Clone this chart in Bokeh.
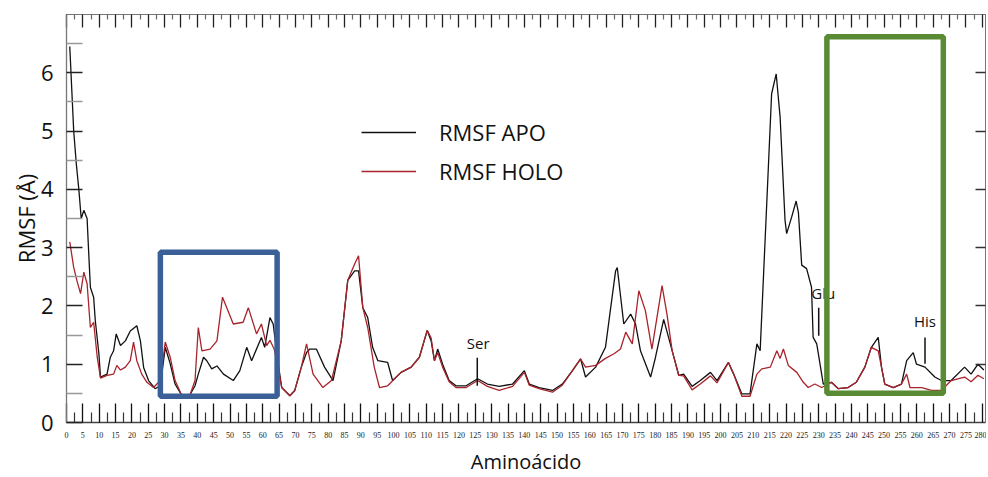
from bokeh.plotting import figure
from bokeh.models import (LinearAxis, FixedTicker, Range1d, Legend, LegendItem,
                          BoxAnnotation, CustomJSTickFormatter)
from bokeh.core.properties import value
from bokeh.embed import file_html
from bokeh.resources import INLINE

# ---------------- data ----------------
apo_res = [1, 2.2, 3.0, 3.8, 4.5, 5.3, 6.3, 6.8, 7.3, 8.3, 8.8, 9.9, 10.4, 12.4, 13.4, 14.4,
           15.2, 16.5, 18, 19.5, 21.5, 22.6, 23.6, 25.1, 27.1, 28.7, 30.2, 31.7, 33.2, 35.3,
           37.8, 39.3, 40.3, 41.9, 42.9, 44.4, 46, 48, 51, 53, 55.1, 56.6, 59.6, 60.6, 62.2,
           63.2, 64.5, 65.8, 68.3, 69.8, 71.8, 73.4, 74.4, 76.4, 78.9, 81.5, 84, 86, 88.1,
           89.3, 90.6, 92.1, 93.6, 95.2, 98.2, 99.7, 102.3, 105.4, 107.9, 110.3, 111.5, 112.5,
           113.5, 115, 117, 119.1, 122.2, 125.7, 128.7, 132.3, 136.4, 140, 141.5, 144.5, 148.6,
           151.6, 154.7, 157.2, 158.7, 161.8, 164.8, 166.4, 167.9, 168.4, 170.4, 172.5, 174,
           175.5, 178.6, 180.1, 182.6, 185.2, 187.2, 188.7, 191.3, 193.8, 196.9, 198.9, 202.4,
           204, 206.5, 209, 211.1, 212.1, 214.2, 215.6, 217, 218.2, 219.7, 220.2, 221.7, 223.1,
           223.8, 224.8, 226.3, 227.8, 228.3, 229.4, 231.4, 233.9, 236, 239, 241.5, 244.1,
           246.1, 248.2, 249.2, 250.2, 252.8, 255.3, 256.9, 258.9, 259.9, 262.5, 265.5, 267.5,
           270.5, 274.6, 276.6, 278.7, 280.5]
apo_rmsf = [6.45, 5.0, 4.44, 3.98, 3.5, 3.64, 3.5, 2.9, 2.32, 2.15, 1.75, 1.18, 0.78, 0.83, 1.12,
            1.23, 1.52, 1.32, 1.4, 1.57, 1.66, 1.4, 0.94, 0.72, 0.58, 0.63, 1.29, 1.01, 0.66,
            0.46, 0.48, 0.63, 0.83, 1.12, 1.06, 0.92, 0.97, 0.83, 0.72, 0.89, 1.29, 1.06, 1.46,
            1.29, 1.8, 1.69, 1.1, 0.6, 0.46, 0.55, 0.95, 1.2, 1.26, 1.26, 0.95, 0.72, 1.4, 2.44,
            2.6, 2.6, 1.97, 1.8, 1.29, 1.06, 1.03, 0.72, 0.86, 0.95, 1.12, 1.58, 1.4, 1.06, 1.26,
            1.0, 0.72, 0.63, 0.63, 0.75, 0.66, 0.62, 0.66, 0.89, 0.66, 0.6, 0.55, 0.66, 0.89,
            1.09, 0.78, 0.95, 1.29, 1.97, 2.6, 2.66, 1.69, 1.86, 1.69, 1.23, 0.78, 1.12, 1.77,
            1.23, 0.81, 0.83, 0.62, 0.72, 0.86, 0.72, 1.03, 0.83, 0.49, 0.49, 1.35, 1.23, 3.87,
            5.64, 5.98, 5.24, 3.47, 3.24, 3.52, 3.8, 3.6, 2.7, 2.64, 2.32, 1.46, 1.35, 0.66,
            0.69, 0.58, 0.6, 0.69, 0.95, 1.29, 1.46, 0.95, 0.66, 0.6, 0.66, 1.06, 1.2, 1.0,
            0.95, 0.78, 0.72, 0.72, 0.95, 0.83, 1.0, 0.9]

holo_res = [1, 2.2, 3.2, 4.3, 5.3, 6.3, 7.3, 8.3, 9.4, 10.4, 12.4, 14.4, 15.4, 16.5, 18, 19.5,
            20.5, 21.5, 23, 24.6, 26.6, 28.7, 30.2, 31.7, 33.2, 35.3, 37.8, 39.3, 40.3, 41.4,
            43.9, 46, 47.7, 49, 51, 54, 55.6, 58.1, 59.6, 61.2, 62.2, 63.5, 64.5, 65.8, 68.3,
            69.8, 71.8, 73.4, 75.4, 78.4, 81, 84, 86, 88.1, 89.3, 90.6, 92.1, 94.1, 95.7, 98.2,
            102.3, 105.4, 107.9, 110.3, 111.5, 112.5, 113.5, 115, 117, 119.1, 122.2, 125.7,
            128.7, 132.3, 136.4, 140, 141.5, 144.5, 148.6, 151.6, 154.7, 157.2, 158.7, 161.8,
            164.8, 167.4, 169.4, 171, 173, 175, 177, 179, 182.1, 183.6, 185.2, 187.2, 188.7,
            191.3, 193.8, 196.9, 198.9, 202.4, 204, 206.5, 209, 211.1, 212.6, 215.2, 217.2,
            218.2, 219.2, 220.7, 223.3, 225.3, 226.8, 228.8, 230.9, 233.9, 236, 239, 241.5,
            244.1, 246.1, 248.2, 249.2, 250.2, 252.8, 255.3, 256.9, 257.9, 261.5, 264.5, 267.5,
            270.5, 274.6, 276.6, 278.7, 280.5]
holo_rmsf = [3.1, 2.66, 2.43, 2.21, 2.58, 2.38, 1.63, 1.72, 1.12, 0.76, 0.81, 0.83, 0.98, 0.9,
             0.95, 1.06, 1.38, 1.06, 0.83, 0.69, 0.6, 0.72, 1.38, 1.12, 0.72, 0.46, 0.48, 0.72,
             1.63, 1.23, 1.26, 1.4, 2.15, 1.97, 1.69, 1.72, 1.97, 1.52, 1.69, 1.32, 1.41, 1.26,
             1.0, 0.6, 0.46, 0.55, 0.95, 1.35, 0.83, 0.6, 0.72, 1.4, 2.44, 2.72, 2.86, 1.97,
             1.63, 0.95, 0.6, 0.63, 0.86, 0.95, 1.12, 1.58, 1.45, 1.06, 1.2, 0.95, 0.7, 0.6, 0.6,
             0.72, 0.62, 0.55, 0.62, 0.86, 0.64, 0.58, 0.52, 0.64, 0.89, 1.09, 0.95, 0.98, 1.1,
             1.18, 1.26, 1.55, 1.35, 2.26, 1.92, 1.26, 2.35, 1.86, 1.23, 0.81, 0.8, 0.56, 0.66,
             0.8, 0.68, 1.03, 0.83, 0.45, 0.45, 0.83, 0.92, 0.95, 1.23, 1.1, 1.26, 0.98, 0.86,
             0.69, 0.6, 0.66, 0.6, 0.69, 0.58, 0.6, 0.69, 0.95, 1.29, 1.23, 0.95, 0.66, 0.6,
             0.66, 0.83, 0.6, 0.6, 0.55, 0.55, 0.72, 0.78, 0.7, 0.81, 0.75]

series_labels = ["RMSF APO", "RMSF HOLO"]

# highlighted regions (residue span, RMSF span)
blue_region_res = [28.7, 64.4]
blue_region_rmsf = [0.45, 2.92]
green_region_res = [232.5, 268.1]
green_region_rmsf = [0.50, 6.62]

# residue markers
marker_names = ["Ser", "Glu", "His"]
marker_text_res = [125.9, 231.4, 262.5]
marker_text_rmsf = [1.36, 2.23, 1.75]
marker_line_res = [125.6, 230.0, 262.5]
marker_line_top = [1.11, 1.97, 1.46]
marker_line_bottom = [0.63, 1.49, 1.01]

x_ticks = list(range(0, 285, 5))
x_minor = [t + 2.5 for t in x_ticks[:-1]]
y_ticks = [0, 1, 2, 3, 4, 5, 6]
y_minor = [0.5, 1.5, 2.5, 3.5, 4.5, 5.5, 6.5]

# ---------------- figure ----------------
FONT = "Open Sans"
APO_COLOR = "#111111"
HOLO_COLOR = "#a8232b"

p = figure(width=986, height=477, x_range=Range1d(0, 281), y_range=Range1d(0, 7),
           output_backend="svg", toolbar_location=None,
           x_axis_location=None, y_axis_location=None,
           min_border_left=66, min_border_right=1, min_border_top=14, min_border_bottom=55,
           background_fill_color="white", border_fill_color="white")
p.outline_line_color = "#777777"
p.xgrid.visible = False
p.ygrid.visible = False

r_apo = p.line(apo_res, apo_rmsf, line_color=APO_COLOR, line_width=1.3)
r_holo = p.line(holo_res, holo_rmsf, line_color=HOLO_COLOR, line_width=1.3)

# markers
p.segment(x0=marker_line_res, y0=marker_line_bottom, x1=marker_line_res, y1=marker_line_top,
          line_color="#111111", line_width=1.5)
p.text(x=marker_text_res, y=marker_text_rmsf, text=marker_names,
       text_font=value(FONT), text_font_size="15px", text_align="center",
       text_baseline="middle", text_color="#111111")

# boxes
p.add_layout(BoxAnnotation(left=blue_region_res[0], right=blue_region_res[1],
                           bottom=blue_region_rmsf[0], top=blue_region_rmsf[1],
                           fill_color=None, fill_alpha=0, line_color="#3b5f97",
                           line_alpha=1.0, line_width=5.5))
p.add_layout(BoxAnnotation(left=green_region_res[0], right=green_region_res[1],
                           bottom=green_region_rmsf[0], top=green_region_rmsf[1],
                           fill_color=None, fill_alpha=0, line_color="#588b33",
                           line_alpha=1.0, line_width=5.5))

empty = CustomJSTickFormatter(code="return ''")

# bottom axis
xa = LinearAxis(ticker=FixedTicker(ticks=x_ticks, minor_ticks=x_minor),
                major_tick_in=19, major_tick_out=0, minor_tick_in=10, minor_tick_out=0,
                major_tick_line_color="#111111", major_tick_line_width=1.3,
                minor_tick_line_color="#333333", minor_tick_line_width=1.2,
                axis_line_color="#444444", axis_line_width=1.3,
                major_label_text_font="Liberation Serif", major_label_text_font_size="8px",
                major_label_text_color="#222222", major_label_standoff=9,
                axis_label="Aminoácido", axis_label_text_font=FONT,
                axis_label_text_font_size="20px", axis_label_text_font_style="normal",
                axis_label_text_color="#111111", axis_label_standoff=7)
p.add_layout(xa, "below")

# left axis
ya = LinearAxis(ticker=FixedTicker(ticks=y_ticks, minor_ticks=y_minor),
                major_tick_in=16, major_tick_out=0, minor_tick_in=16, minor_tick_out=0,
                major_tick_line_color="#222222", major_tick_line_width=1.5,
                minor_tick_line_color="#999999", minor_tick_line_width=1.5,
                axis_line_color="#777777", axis_line_width=1.3,
                major_label_text_font=FONT, major_label_text_font_size="22px",
                major_label_text_color="#111111", major_label_standoff=13,
                axis_label="RMSF (Å)", axis_label_text_font=FONT,
                axis_label_text_font_size="22px", axis_label_text_font_style="normal",
                axis_label_text_color="#111111", axis_label_standoff=-3)
p.add_layout(ya, "left")

# top axis (ticks only)
top = LinearAxis(ticker=FixedTicker(ticks=x_ticks, minor_ticks=x_minor), formatter=empty,
                 major_tick_in=13, major_tick_out=0, minor_tick_in=5, minor_tick_out=0,
                 major_label_standoff=0, axis_line_color="#777777",
                 major_tick_line_color="#222222", major_tick_line_width=1.3,
                 minor_tick_line_color="#666666", minor_tick_line_width=1.2)
p.add_layout(top, "above")

# right axis (ticks only)
right = LinearAxis(ticker=FixedTicker(ticks=y_ticks[1:]), formatter=empty,
                   major_tick_in=10, major_tick_out=0, minor_tick_in=0, minor_tick_out=0,
                   major_label_standoff=0, axis_line_color="#777777",
                   major_tick_line_color="#333333", major_tick_line_width=1.3)
p.add_layout(right, "right")

legend = Legend(items=[LegendItem(label=series_labels[0], renderers=[r_apo]),
                       LegendItem(label=series_labels[1], renderers=[r_holo])],
                location=(295, 236), border_line_alpha=0, background_fill_alpha=0,
                glyph_width=55, glyph_height=30, label_height=30, label_standoff=23,
                spacing=9, padding=0, margin=0,
                label_text_font=FONT, label_text_font_size="22px",
                label_text_color="#111111")
p.add_layout(legend)

open("out.html", "w").write(file_html(p, INLINE))
